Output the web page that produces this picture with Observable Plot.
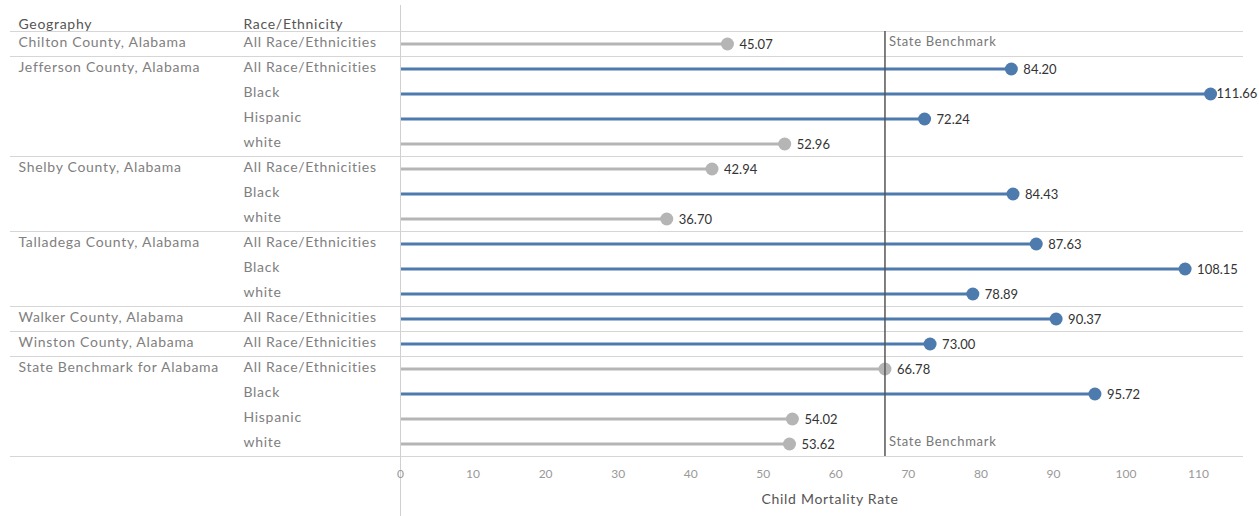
<!DOCTYPE html>
<html>
<head>
<meta charset="utf-8">
<script src="https://cdn.jsdelivr.net/npm/d3@7"></script>
<script src="https://cdn.jsdelivr.net/npm/@observablehq/plot@0.6"></script>
<style>
  html, body { margin: 0; padding: 0; background: #fff; }
  #chart svg { display: block; font-family: Lato, "Open Sans", sans-serif; }
  .lbl text { letter-spacing: 0.7px; }
</style>
</head>
<body>
<div id="chart"></div>
<script>
// ---- data ----
const geographies = [
  "Chilton County, Alabama",
  "Jefferson County, Alabama", "Jefferson County, Alabama", "Jefferson County, Alabama", "Jefferson County, Alabama",
  "Shelby County, Alabama", "Shelby County, Alabama", "Shelby County, Alabama",
  "Talladega County, Alabama", "Talladega County, Alabama", "Talladega County, Alabama",
  "Walker County, Alabama",
  "Winston County, Alabama",
  "State Benchmark for Alabama", "State Benchmark for Alabama", "State Benchmark for Alabama", "State Benchmark for Alabama"
];
const races = [
  "All Race/Ethnicities",
  "All Race/Ethnicities", "Black", "Hispanic", "white",
  "All Race/Ethnicities", "Black", "white",
  "All Race/Ethnicities", "Black", "white",
  "All Race/Ethnicities",
  "All Race/Ethnicities",
  "All Race/Ethnicities", "Black", "Hispanic", "white"
];
const rates = [45.07, 84.20, 111.66, 72.24, 52.96, 42.94, 84.43, 36.70, 87.63, 108.15, 78.89, 90.37, 73.00, 66.78, 95.72, 54.02, 53.62];
const benchmark = 66.78;
const xTicks = [0, 10, 20, 30, 40, 50, 60, 70, 80, 90, 100, 110];
const headers = ["Geography", "Race/Ethnicity"];
const axisTitle = "Child Mortality Rate";
const benchmarkLabel = "State Benchmark";

// ---- table built from arrays ----
const rows = rates.map((v, i) => ({
  key: i + "|" + geographies[i] + "|" + races[i],
  geo: geographies[i],
  race: races[i],
  value: v,
  first: i === 0 || geographies[i] !== geographies[i - 1],
  last: i === rates.length - 1
}));
const keys = rows.map(d => d.key);
const groupStarts = rows.filter(d => d.first);
const xMax = 116.2;

const BLUE = "#4e7bad";
const GREY = "#b5b5b5";
const colorOf = d => d.value > benchmark ? BLUE : GREY;

const chart = Plot.plot({
  width: 1259,
  height: 516,
  marginLeft: 400,
  marginRight: 16,
  marginTop: 31,
  marginBottom: 60,
  style: { fontFamily: "Lato, 'Open Sans', sans-serif", fontSize: "14px", background: "#fff" },
  x: { domain: [0, xMax] },
  y: { type: "band", domain: keys, padding: 0, axis: null },
  marks: [
    // row group separators
    Plot.ruleY(groupStarts, { y: "key", dy: -12.5, stroke: "#d6d6d6", strokeWidth: 1, insetLeft: -390 }),
    Plot.ruleY(rows.filter(d => d.last), { y: "key", dy: 12.5, stroke: "#d6d6d6", strokeWidth: 1, insetLeft: -390 }),
    // pane divider
    Plot.ruleX([0], { stroke: "#d0d0d0", strokeWidth: 1, insetTop: -26, insetBottom: -60 }),
    // header labels
    Plot.text([headers[0]], { text: d => d, frameAnchor: "top-left", dx: -382, dy: -12, textAnchor: "start", fill: "#555", className: "lbl" }),
    Plot.text([headers[1]], { text: d => d, frameAnchor: "top-left", dx: -157, dy: -12, textAnchor: "start", fill: "#555", className: "lbl" }),
    // row labels
    Plot.text(groupStarts, { y: "key", text: "geo", frameAnchor: "left", dx: -382, dy: -1, textAnchor: "start", fill: "#808080", className: "lbl" }),
    Plot.text(rows, { y: "key", text: "race", frameAnchor: "left", dx: -157, dy: -1, textAnchor: "start", fill: "#808080", className: "lbl" }),
    // lollipops
    Plot.ruleY(rows, { y: "key", x1: 0, x2: "value", stroke: colorOf, strokeWidth: 3, insetLeft: 1 }),
    Plot.dot(rows, { y: "key", x: "value", r: 6.5, fill: colorOf, stroke: "none" }),
    Plot.text(rows.filter(d => d.value < 110), { y: "key", x: "value", text: d => d.value.toFixed(2), dx: 12, dy: 1, textAnchor: "start", fill: "#333", fontSize: 13 }),
    Plot.text(rows.filter(d => d.value >= 110), { y: "key", x: "value", text: d => d.value.toFixed(2), dx: 6, dy: 0, textAnchor: "start", fill: "#333", fontSize: 13 }),
    // benchmark
    Plot.ruleX([benchmark], { stroke: "#555", strokeWidth: 1.5 }),
    Plot.text([rows[0], rows[rows.length - 1]], { y: "key", x: () => benchmark, text: () => benchmarkLabel, dx: 4, dy: -2, textAnchor: "start", fill: "#777", fontSize: 13, className: "lbl" }),
    // axis
    Plot.axisX({ ticks: xTicks, tickSize: 0, tickPadding: 13, label: null, fill: "#999", fontSize: 12 }),
    Plot.text([axisTitle], { text: d => d, frameAnchor: "bottom", dx: 8, dy: 47, fill: "#555", fontSize: 14, className: "lbl" })
  ]
});
document.getElementById("chart").appendChild(chart);
</script>
</body>
</html>
